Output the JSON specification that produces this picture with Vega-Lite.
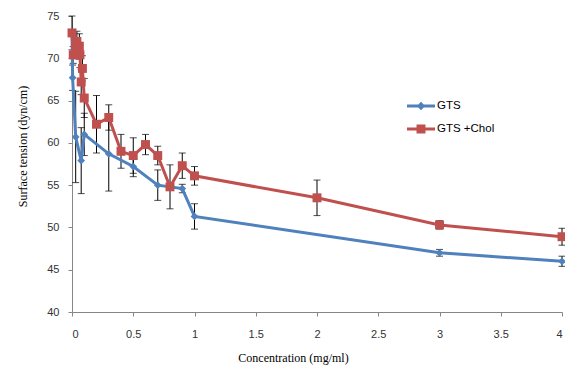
{
  "$schema": "https://vega.github.io/schema/vega-lite/v6.json",
  "width": 490,
  "height": 296,
  "autosize": {"type": "none"},
  "padding": {"left": 72, "top": 16, "right": 3, "bottom": 59},
  "background": "white",
  "config": {
    "view": {"stroke": null},
    "axis": {"grid": false, "domainColor": "#868686", "tickColor": "#868686", "tickSize": 4, "labelFont": "Liberation Sans", "labelFontSize": 11, "labelColor": "#333333", "titleFont": "Liberation Serif", "titleFontSize": 12, "titleFontWeight": "normal", "titleColor": "#000000"}
  },
  "data": {
    "values": [
      {"series": "GTS", "c": 0, "v": 72.9, "e": 0},
      {"series": "GTS", "c": 0.005, "v": 67.7, "e": 1.5},
      {"series": "GTS", "c": 0.03, "v": 60.7, "e": 5.4},
      {"series": "GTS", "c": 0.075, "v": 57.9, "e": 3.9},
      {"series": "GTS", "c": 0.1, "v": 61.0, "e": 2.5},
      {"series": "GTS", "c": 0.3, "v": 58.7, "e": 4.4},
      {"series": "GTS", "c": 0.5, "v": 57.2, "e": 1.2},
      {"series": "GTS", "c": 0.7, "v": 55.0, "e": 1.8},
      {"series": "GTS", "c": 0.9, "v": 54.6, "e": 0.5},
      {"series": "GTS", "c": 1.0, "v": 51.3, "e": 1.5},
      {"series": "GTS", "c": 3, "v": 47.0, "e": 0.4},
      {"series": "GTS", "c": 4, "v": 46.0, "e": 0.6},
      {"series": "GTS  +Chol", "c": 0, "v": 73.0, "e": 2.0},
      {"series": "GTS  +Chol", "c": 0.01, "v": 70.4, "e": 1.0},
      {"series": "GTS  +Chol", "c": 0.04, "v": 72.0, "e": 1.2},
      {"series": "GTS  +Chol", "c": 0.06, "v": 71.4, "e": 1.5},
      {"series": "GTS  +Chol", "c": 0.065, "v": 70.4, "e": 1.5},
      {"series": "GTS  +Chol", "c": 0.075, "v": 67.2, "e": 1.5},
      {"series": "GTS  +Chol", "c": 0.085, "v": 68.8, "e": 1.5},
      {"series": "GTS  +Chol", "c": 0.1, "v": 65.3, "e": 2.3},
      {"series": "GTS  +Chol", "c": 0.2, "v": 62.2, "e": 3.4},
      {"series": "GTS  +Chol", "c": 0.3, "v": 63.0, "e": 1.5},
      {"series": "GTS  +Chol", "c": 0.4, "v": 59.0, "e": 2.0},
      {"series": "GTS  +Chol", "c": 0.5, "v": 58.5, "e": 2.1},
      {"series": "GTS  +Chol", "c": 0.6, "v": 59.8, "e": 1.2},
      {"series": "GTS  +Chol", "c": 0.7, "v": 58.5, "e": 1.1},
      {"series": "GTS  +Chol", "c": 0.8, "v": 54.8, "e": 2.6},
      {"series": "GTS  +Chol", "c": 0.9, "v": 57.3, "e": 1.5},
      {"series": "GTS  +Chol", "c": 1.0, "v": 56.1, "e": 1.1},
      {"series": "GTS  +Chol", "c": 2, "v": 53.5, "e": 2.1},
      {"series": "GTS  +Chol", "c": 3, "v": 50.3, "e": 0.5},
      {"series": "GTS  +Chol", "c": 4, "v": 48.9, "e": 1.0}
    ]
  },
  "encoding": {
    "x": {"field": "c", "type": "quantitative", "scale": {"domain": [0, 4], "nice": false, "zero": false},
      "axis": {"values": [0, 0.5, 1, 1.5, 2, 2.5, 3, 3.5, 4], "format": "~g", "labelPadding": 12, "title": "Concentration (mg/ml)", "titleX": 221, "titleY": 49, "titleBaseline": "alphabetic", "titleAlign": "center"}},
    "y": {"field": "v", "type": "quantitative", "scale": {"domain": [40, 75], "nice": false, "zero": false},
      "axis": {"values": [40, 45, 50, 55, 60, 65, 70, 75], "labelPadding": 9, "title": "Surface tension (dyn/cm)", "titleX": -50, "titleY": 130, "titleAngle": -90, "titleAlign": "center", "titleBaseline": "middle"}}
  },
  "layer": [
    {
      "mark": {"type": "errorbar", "ticks": {"size": 7}, "color": "black", "thickness": 1},
      "encoding": {"yError": {"field": "e"}}
    },
    {
      "mark": {"type": "line", "strokeWidth": 3},
      "encoding": {
        "color": {"field": "series", "type": "nominal", "scale": {"domain": ["GTS", "GTS  +Chol"], "range": ["#4F81BD", "#C0504D"]},
          "legend": {"title": null, "orient": "none", "legendX": 335, "legendY": 76, "labelFont": "Liberation Sans", "labelFontSize": 11.5, "labelColor": "#000000", "symbolSize": 784, "symbolStrokeWidth": 0, "rowPadding": 3, "labelOffset": 2,
            "encode": {"symbols": {"update": {
              "shape": {"signal": "datum.value === 'GTS' ? 'M-1,-0.1L1,-0.1L1,0.1L-1,0.1ZM0,-0.3L0.3,0L0,0.3L-0.3,0Z' : 'M-1,-0.1L1,-0.1L1,0.1L-1,0.1ZM-0.32,-0.32L0.32,-0.32L0.32,0.32L-0.32,0.32Z'"},
              "fill": {"signal": "datum.value === 'GTS' ? '#4F81BD' : '#C0504D'"},
              "opacity": {"value": 1},
              "fillOpacity": {"value": 1}
            }}}}
        }
      }
    },
    {
      "transform": [{"filter": "datum.series === 'GTS'"}],
      "mark": {"type": "point", "filled": true, "opacity": 1, "shape": "diamond", "size": 60, "color": "#4F81BD"}
    },
    {
      "transform": [{"filter": "datum.series !== 'GTS'"}],
      "mark": {"type": "point", "filled": true, "opacity": 1, "shape": "square", "size": 80, "color": "#C0504D"}
    }
  ]
}
